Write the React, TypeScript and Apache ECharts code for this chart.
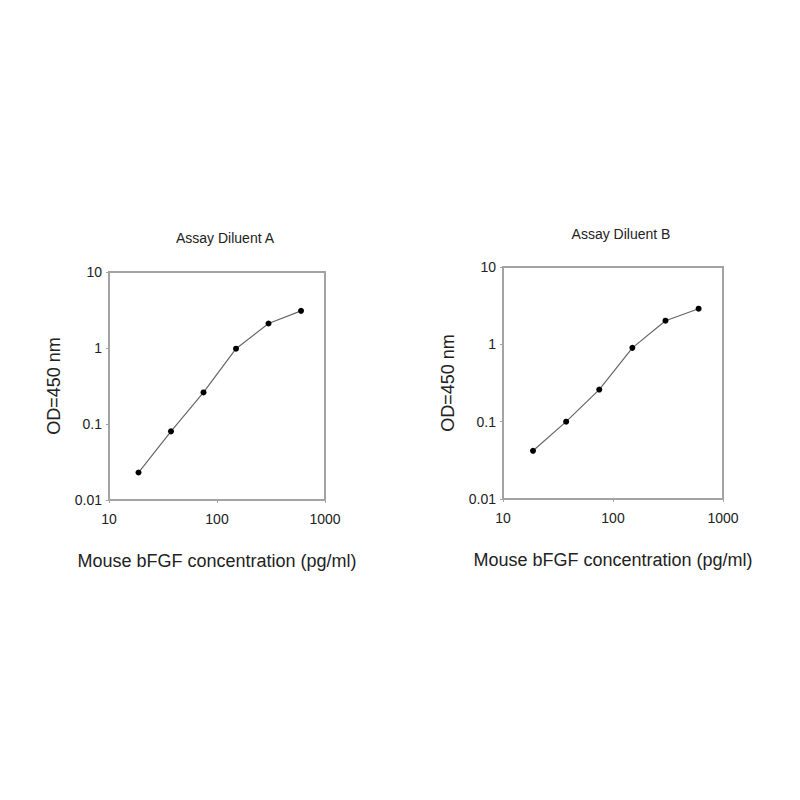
import { useEffect, useRef } from "react";
import * as echarts from "echarts";

const concentrations = [18.75, 37.5, 75, 150, 300, 600];
const odDiluentA = [0.023, 0.08, 0.26, 0.98, 2.1, 3.08];
const odDiluentB = [0.042, 0.1, 0.26, 0.9, 2.02, 2.89];
const panelTitles = ["Assay Diluent A", "Assay Diluent B"];
const xAxisName = "Mouse bFGF concentration (pg/ml)";
const yAxisName = "OD=450 nm";

const FONT = "'Liberation Sans', Arial, sans-serif";
const BORDER = "#a3a3a3";

// log axis labels: plain numbers, no thousands comma, no float noise
const fmt = (v: number) => String(Number(v.toPrecision(3)));

const App = () => {
  const chartRef = useRef(null);

  useEffect(() => {
    const chart = echarts.init(chartRef.current, null, { renderer: "svg" });

    const grids = [
      { left: 109, top: 272, width: 216, height: 228 },
      { left: 503, top: 267, width: 220, height: 232 },
    ];

    const xAxis = grids.map((_, i) => ({
      type: "log",
      logBase: 10,
      min: 10,
      max: 1000,
      gridIndex: i,
      name: xAxisName,
      nameLocation: "middle",
      nameGap: 52,
      nameTextStyle: { fontSize: 18, color: "#222", fontFamily: FONT },
      axisLine: { lineStyle: { color: BORDER, width: 2 } },
      axisTick: { show: true, length: 3, lineStyle: { color: BORDER } },
      axisLabel: { formatter: fmt, fontSize: 14, color: "#222", margin: 12, fontFamily: FONT },
      splitLine: { show: false },
    }));

    const yAxis = grids.map((_, i) => ({
      type: "log",
      logBase: 10,
      min: 0.01,
      max: 10,
      gridIndex: i,
      name: yAxisName,
      nameLocation: "middle",
      nameGap: 46,
      nameTextStyle: { fontSize: 18, color: "#222", fontFamily: FONT },
      axisLine: { lineStyle: { color: BORDER, width: 2 } },
      axisTick: { show: true, length: 3, lineStyle: { color: BORDER } },
      axisLabel: { formatter: fmt, fontSize: 14, color: "#222", margin: 7, fontFamily: FONT },
      splitLine: { show: false },
    }));

    const option: any = {
      animation: false,
      backgroundColor: "#fff",
      title: [
        {
          text: panelTitles[0],
          left: 220,
          top: 226,
          textAlign: "center",
          textStyle: { fontSize: 14, fontWeight: "normal", color: "#222", fontFamily: FONT },
        },
        {
          text: panelTitles[1],
          left: 616,
          top: 222,
          textAlign: "center",
          textStyle: { fontSize: 14, fontWeight: "normal", color: "#222", fontFamily: FONT },
        },
      ],
      grid: grids.map((g) => ({
        ...g,
        show: true,
        borderColor: BORDER,
        borderWidth: 2,
        backgroundColor: "transparent",
      })),
      xAxis,
      yAxis,
      series: [odDiluentA, odDiluentB].map((od, i) => ({
        name: panelTitles[i],
        type: "line",
        xAxisIndex: i,
        yAxisIndex: i,
        data: concentrations.map((c, j) => [c, od[j]]),
        symbol: "circle",
        symbolSize: 6,
        itemStyle: { color: "#000" },
        lineStyle: { color: "#666", width: 1.2 },
      })),
    };

    chart.setOption(option);

    return () => {
      chart.dispose();
    };
  }, []);

  return (
    <div
      ref={chartRef}
      style={{ position: "fixed", left: 0, top: 0, width: "800px", height: "800px" }}
    />
  );
};

export default App;
